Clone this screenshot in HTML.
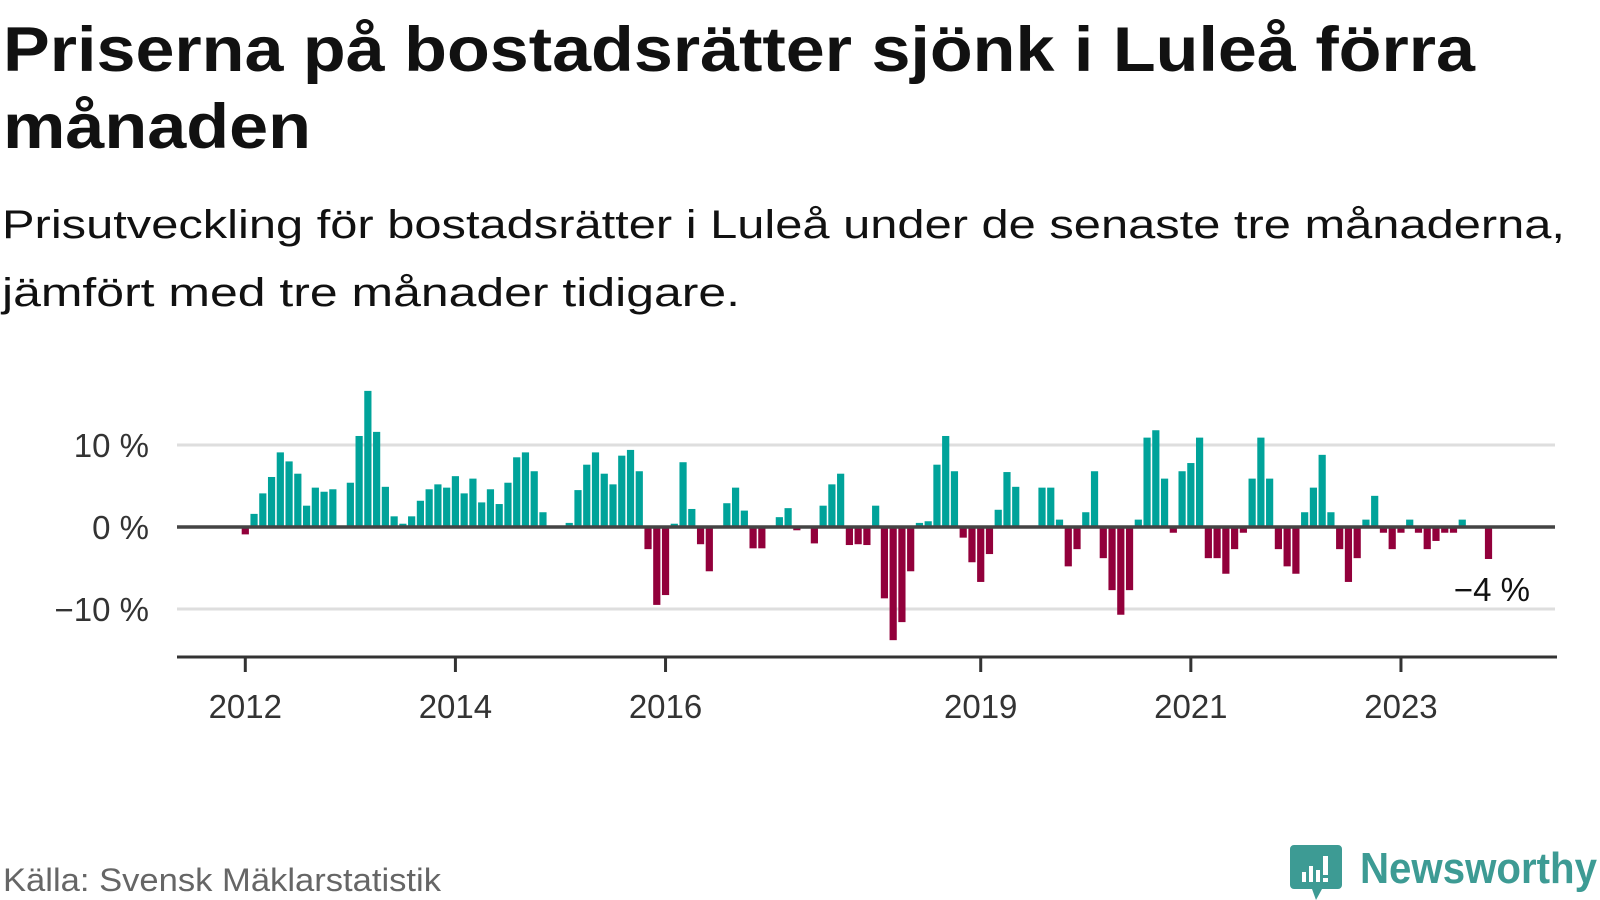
<!DOCTYPE html>
<html><head><meta charset="utf-8"><style>
html,body{margin:0;padding:0;background:#fff;}
svg{display:block;}
text{font-family:"Liberation Sans",sans-serif;}
</style></head><body>
<svg id="chart" width="1600" height="900" viewBox="0 0 1600 900" xmlns="http://www.w3.org/2000/svg">
<text x="3" y="71" font-size="63" font-weight="bold" fill="#111" textLength="1472" lengthAdjust="spacingAndGlyphs">Priserna på bostadsrätter sjönk i Luleå förra</text>
<text x="3" y="148" font-size="63" font-weight="bold" fill="#111" textLength="308" lengthAdjust="spacingAndGlyphs">månaden</text>
<text x="2" y="238" font-size="40" fill="#111" textLength="1563" lengthAdjust="spacingAndGlyphs">Prisutveckling för bostadsrätter i Luleå under de senaste tre månaderna,</text>
<text x="2" y="306" font-size="40" fill="#111" textLength="738" lengthAdjust="spacingAndGlyphs">jämfört med tre månader tidigare.</text>
<g id="plot"></g>
<text x="3" y="891" font-size="32" fill="#666" textLength="438" lengthAdjust="spacingAndGlyphs">Källa: Svensk Mäklarstatistik</text>
<g>
<path d="M1294 845 h44 a4 4 0 0 1 4 4 v36 a4 4 0 0 1 -4 4 h-16 l-6 11 l-4 -11 h-18 a4 4 0 0 1 -4 -4 v-36 a4 4 0 0 1 4 -4z" fill="#3d9b94"/>
<rect x="1302" y="872" width="4" height="10" fill="#fff"/>
<rect x="1309" y="866" width="4" height="16" fill="#fff"/>
<rect x="1316" y="870" width="4" height="12" fill="#fff"/>
<rect x="1323" y="856" width="5" height="19" fill="#fff"/>
<rect x="1323" y="878" width="5" height="4" fill="#fff"/>
<text x="1360" y="883" font-size="44" font-weight="bold" fill="#3d9b94" textLength="237" lengthAdjust="spacingAndGlyphs">Newsworthy</text>
</g>
</svg>
<script>
const values = [-0.9,1.6,4.1,6.1,9.1,8.0,6.5,2.6,4.8,4.3,4.6,null,
5.4,11.1,16.6,11.6,4.9,1.3,0.4,1.3,3.2,4.6,5.2,4.8,
6.2,4.1,5.9,3.0,4.6,2.8,5.4,8.5,9.1,6.8,1.8,null,
null,0.5,4.5,7.6,9.1,6.5,5.2,8.7,9.4,6.8,-2.7,-9.5,
-8.3,0.4,7.9,2.2,-2.1,-5.4,null,2.9,4.8,2.0,-2.6,-2.6,
null,1.2,2.3,-0.4,null,-2.0,2.6,5.2,6.5,-2.2,-2.1,-2.2,
2.6,-8.7,-13.8,-11.6,-5.4,0.5,0.7,7.6,11.1,6.8,-1.3,-4.3,
-6.7,-3.3,2.1,6.7,4.9,null,null,4.8,4.8,0.9,-4.8,-2.7,
1.8,6.8,-3.8,-7.7,-10.7,-7.7,0.9,10.9,11.8,5.9,-0.7,6.8,
7.8,10.9,-3.8,-3.8,-5.7,-2.7,-0.7,5.9,10.9,5.9,-2.7,-4.8,
-5.7,1.8,4.8,8.8,1.8,-2.7,-6.7,-3.8,0.9,3.8,-0.7,-2.7,
-0.7,0.9,-0.7,-2.7,-1.7,-0.7,-0.7,0.9,null,null,-3.9];
const startYear = 2012;
const yTicks = [10, 0, -10];
const yTickLabels = ["10 %", "0 %", "\u221210 %"];
const xTickYears = [2012, 2014, 2016, 2019, 2021, 2023];
const lastLabel = "\u22124 %";

const NS = "http://www.w3.org/2000/svg";
const g = document.getElementById('plot');
const X0 = 245.3, MONTH = 8.755, Y0 = 527, PER = 8.2;
const xScale = i => X0 + i * MONTH;
const yScale = v => Y0 - v * PER;
function mk(tag, attrs){ const e = document.createElementNS(NS, tag); for (const k in attrs) e.setAttribute(k, attrs[k]); g.appendChild(e); return e; }

yTicks.forEach((t, k) => {
  if (t !== 0) {
    const l = mk('line', {x1:177, x2:1555, y1:yScale(t), y2:yScale(t), stroke:'#dedede', 'stroke-width':3});
    
    
  }
  const tx = mk('text', {x:149, y:yScale(t)+12, 'font-size':33, fill:'#333', 'text-anchor':'end'});
  tx.textContent = yTickLabels[k];
  
  
});

values.forEach((v, i) => {
  if (v === null) return;
  const y = v >= 0 ? yScale(v) : Y0;
  const r = mk('rect', {x:xScale(i)-3.6, y:y, width:7.2, height:Math.abs(v)*PER, fill: v >= 0 ? '#00a39a' : '#92003b'});
  
  
});

const zl = mk('line', {x1:177, x2:1555, y1:Y0, y2:Y0, stroke:'#444', 'stroke-width':3.5});



const ax = mk('line', {x1:177, x2:1557, y1:657, y2:657, stroke:'#333', 'stroke-width':3});



xTickYears.forEach(yr => {
  const x = xScale((yr - startYear) * 12);
  const t = mk('line', {x1:x, x2:x, y1:657, y2:672, stroke:'#333', 'stroke-width':3});
  
  
  const tx = mk('text', {x:x, y:718, 'font-size':33, fill:'#333', 'text-anchor':'middle'});
  tx.textContent = String(yr);
  
  
});

const ll = mk('text', {x:1530, y:601, 'font-size':33, fill:'#111', 'text-anchor':'end'});
ll.textContent = lastLabel;


</script>
</body></html>
